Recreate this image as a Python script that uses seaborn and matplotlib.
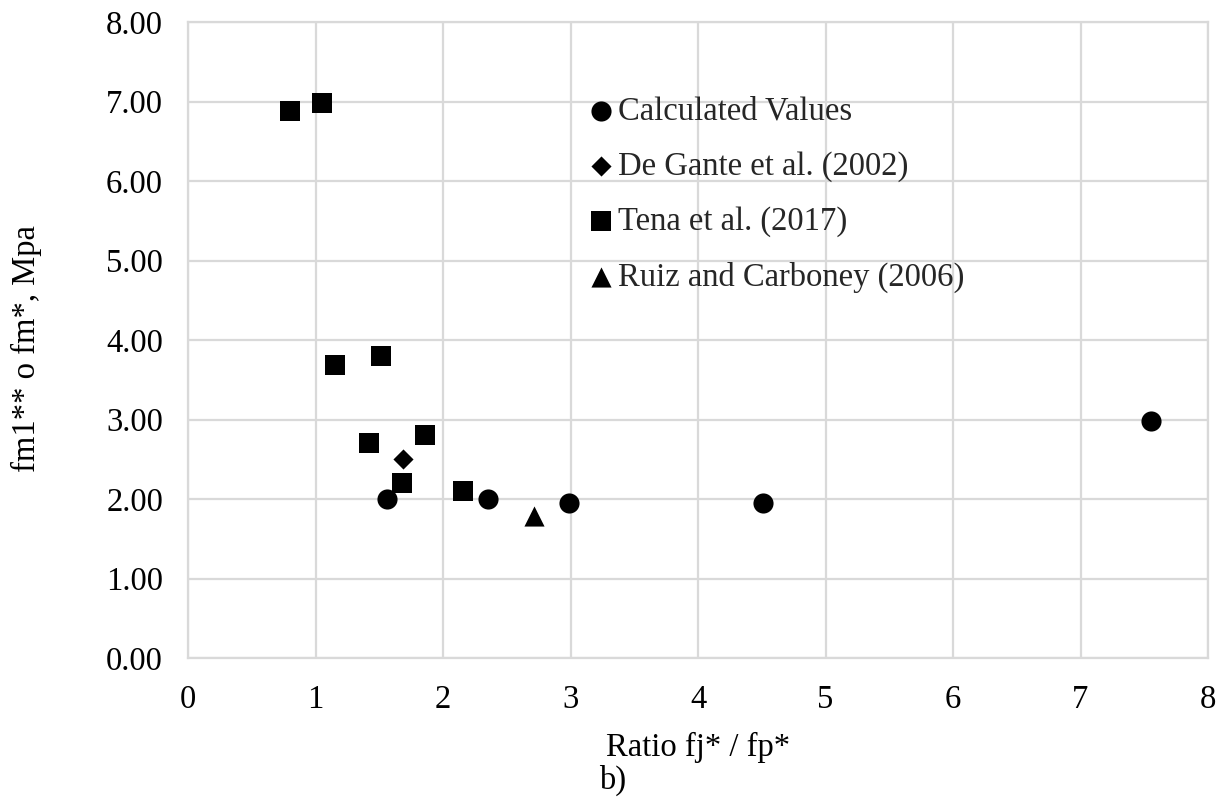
import matplotlib
matplotlib.use("Agg")
import matplotlib.pyplot as plt
import seaborn as sns
import pandas as pd

# Data series
calc_x = [1.56, 2.35, 2.99, 4.51, 7.55]
calc_y = [2.00, 2.00, 1.95, 1.95, 2.98]

degante_x = [1.69]
degante_y = [2.50]

tena_x = [0.80, 1.05, 1.15, 1.51, 1.42, 1.86, 1.68, 2.16]
tena_y = [6.88, 6.98, 3.69, 3.80, 2.70, 2.80, 2.20, 2.10]

ruiz_x = [2.71]
ruiz_y = [1.79]

series_names = ["Calculated Values", "De Gante et al. (2002)",
                "Tena et al. (2017)", "Ruiz and Carboney (2006)"]

x_ticks = [0, 1, 2, 3, 4, 5, 6, 7, 8]
y_ticks = [0, 1, 2, 3, 4, 5, 6, 7, 8]

sns.set_theme(style="white")
plt.rcParams["font.family"] = ["Liberation Serif", "DejaVu Serif"]

FS = 23.5

fig = plt.figure(figsize=(12.27, 8.0), dpi=100)
ax = fig.add_axes([188 / 1227, 142 / 800, 1020 / 1227, 636 / 800])

grid_col = "#d9d9d9"
styles = [("o", 210), ("D", 105), ("s", 205), ("^", 210)]
data = [(calc_x, calc_y), (degante_x, degante_y), (tena_x, tena_y), (ruiz_x, ruiz_y)]

for (xs, ys), name, (mk, sz) in zip(data, series_names, styles):
    df = pd.DataFrame({"x": xs, "y": ys})
    sns.scatterplot(data=df, x="x", y="y", marker=mk, s=sz, color="black",
                    edgecolor="black", linewidth=0, label=name, ax=ax, zorder=3)

ax.set_xlim(0, 8)
ax.set_ylim(0, 8)
ax.set_xticks(x_ticks)
ax.set_yticks(y_ticks)
ax.set_xticklabels([str(t) for t in x_ticks])
ax.set_yticklabels([f"{t:.2f}" for t in y_ticks])
ax.tick_params(axis="both", length=0, labelsize=FS, colors="black")
ax.tick_params(axis="x", pad=19)
ax.tick_params(axis="y", pad=18)

ax.grid(True, color=grid_col, linewidth=1.6)
ax.set_axisbelow(True)
for sp in ax.spines.values():
    sp.set_color(grid_col)
    sp.set_linewidth(1.6)

ax.set_xlabel("Ratio fj* / fp*", fontsize=FS, color="black")
ax.set_ylabel("fm1** o fm*, Mpa", fontsize=FS, color="black")
ax.xaxis.set_label_coords(0.5, -0.117)
ax.yaxis.set_label_coords(-0.143, 0.487)

fig.text(0.4996, 0.025, "b)", fontsize=FS, ha="center", va="center", color="black")

ax.legend(loc="upper left", bbox_to_anchor=(585 / 1227, 1 - 96 / 800),
          bbox_transform=fig.transFigure, frameon=False, fontsize=FS,
          handlelength=1.0, handletextpad=0.0, labelspacing=0.75,
          borderaxespad=0, borderpad=0)

fig.savefig("out.png", dpi=100)
